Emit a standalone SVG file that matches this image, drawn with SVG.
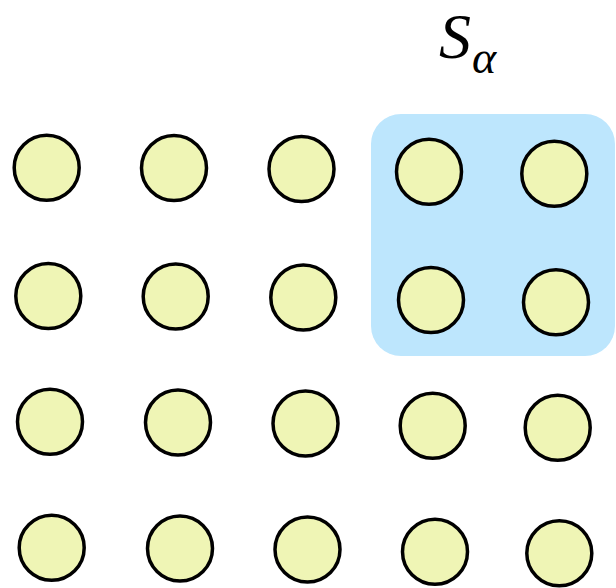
<svg xmlns="http://www.w3.org/2000/svg" width="616" height="588" viewBox="0 0 616 588">
<style>
.n{fill:#eff5b5;stroke:#000;stroke-width:3.5}
.lbl{font-family:"Liberation Serif",serif;font-style:italic;fill:#000}
</style>
<rect width="616" height="588" fill="#fff"/>
<g id="region">
<rect x="371" y="114" width="244" height="242" rx="30" fill="#bde6fd"/>
</g>
<g id="label">
<text class="lbl" x="439" y="58" font-size="64">S</text>
<text class="lbl" x="472" y="73" font-size="46">α</text>
</g>
<g id="nodes">
<g id="n00"><circle class="n" cx="46.7" cy="167.7" r="32.5"/></g>
<g id="n01"><circle class="n" cx="174" cy="168" r="32.5"/></g>
<g id="n02"><circle class="n" cx="301.5" cy="169" r="32.5"/></g>
<g id="n03"><circle class="n" cx="429" cy="171.7" r="32.5"/></g>
<g id="n04"><circle class="n" cx="554.3" cy="173.7" r="32.5"/></g>
<g id="n10"><circle class="n" cx="48.3" cy="296" r="32.5"/></g>
<g id="n11"><circle class="n" cx="175.7" cy="296.5" r="32.5"/></g>
<g id="n12"><circle class="n" cx="303.3" cy="297.5" r="32.5"/></g>
<g id="n13"><circle class="n" cx="431" cy="300" r="32.5"/></g>
<g id="n14"><circle class="n" cx="556" cy="302.3" r="32.5"/></g>
<g id="n20"><circle class="n" cx="50" cy="421.7" r="32.5"/></g>
<g id="n21"><circle class="n" cx="178" cy="422.5" r="32.5"/></g>
<g id="n22"><circle class="n" cx="305.5" cy="423.5" r="32.5"/></g>
<g id="n23"><circle class="n" cx="432.7" cy="425.7" r="32.5"/></g>
<g id="n24"><circle class="n" cx="557.7" cy="427.7" r="32.5"/></g>
<g id="n30"><circle class="n" cx="51.7" cy="547.7" r="32.5"/></g>
<g id="n31"><circle class="n" cx="180" cy="548.5" r="32.5"/></g>
<g id="n32"><circle class="n" cx="307.5" cy="549.5" r="32.5"/></g>
<g id="n33"><circle class="n" cx="435" cy="551.7" r="32.5"/></g>
<g id="n34"><circle class="n" cx="559.3" cy="553.3" r="32.5"/></g>
</g>
<g id="connectors"></g>
</svg>
